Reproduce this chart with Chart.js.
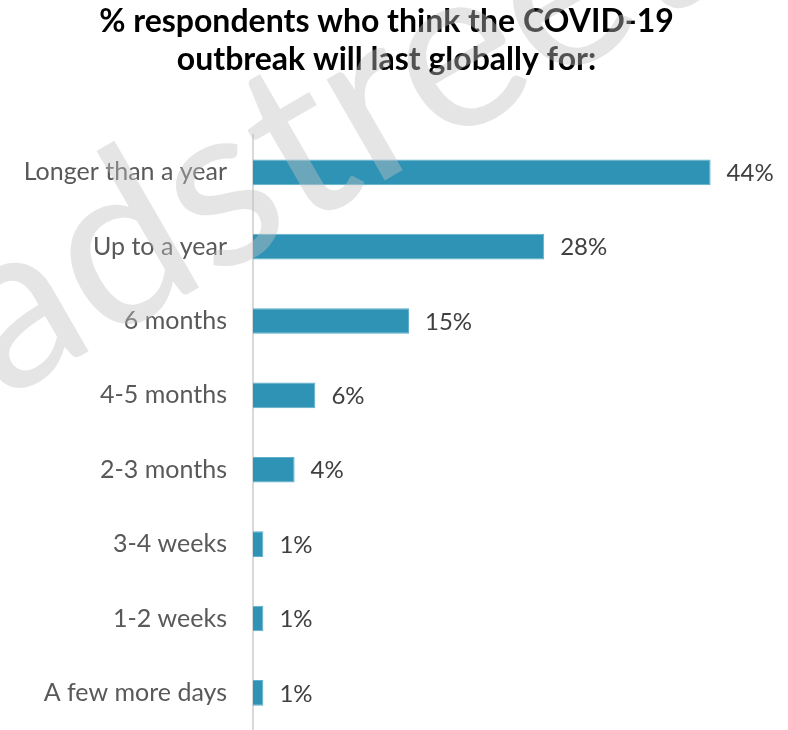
<!DOCTYPE html>
<html>
<head>
<meta charset="utf-8">
<script src="https://cdn.jsdelivr.net/npm/chart.js@4.4.1/dist/chart.umd.min.js"></script>
<style>
  html, body { margin: 0; padding: 0; background: #fff; }
  #wrap { width: 788px; height: 730px; }
</style>
</head>
<body>
<div id="wrap"><canvas id="chart"></canvas></div>
<script>
const CATEGORIES = [
  "Longer than a year", "Up to a year", "6 months", "4-5 months",
  "2-3 months", "3-4 weeks", "1-2 weeks", "A few more days"
];
const SHARES = [44, 28, 15, 6, 4, 1, 1, 1];
const TITLE = ["% respondents who think the COVID-19", "outbreak will last globally for:"];

const FONT = "Lato, 'Open Sans', sans-serif";

// percentage next to each bar
const valueLabels = {
  id: "valueLabels",
  afterDatasetsDraw(chart) {
    const ctx = chart.ctx;
    const meta = chart.getDatasetMeta(0);
    ctx.save();
    ctx.font = `24px ${FONT}`;
    ctx.fillStyle = "#404040";
    ctx.textAlign = "left";
    ctx.textBaseline = "middle";
    meta.data.forEach((bar, i) => {
      ctx.fillText(SHARES[i] + "%", bar.x + 16, bar.y + 1);
    });
    ctx.restore();
  }
};

// faint watermark over everything
const watermark = {
  id: "watermark",
  afterDraw(chart) {
    const ctx = chart.ctx;
    ctx.save();
    ctx.translate(-195, 515);
    ctx.rotate(-30 * Math.PI / 180);
    ctx.font = `230px ${FONT}`;
    ctx.fillStyle = "rgba(194,194,194,0.42)";
    ctx.textBaseline = "alphabetic";
    ctx.fillText("Bradstreet", 0, 0);
    ctx.restore();
  }
};

new Chart(document.getElementById("chart"), {
  type: "bar",
  data: {
    labels: CATEGORIES,
    datasets: [{
      data: SHARES,
      backgroundColor: "#2e93b5",
      borderColor: "#5fb0cc",
      borderWidth: 1,
      barPercentage: 0.345,
      categoryPercentage: 1
    }]
  },
  options: {
    indexAxis: "y",
    responsive: true,
    maintainAspectRatio: false,
    animation: false,
    layout: { padding: { left: 0, right: 15, top: 0, bottom: 0 } },
    plugins: {
      legend: { display: false },
      tooltip: { enabled: false },
      title: {
        display: true,
        text: TITLE,
        color: "#000",
        font: { family: FONT, size: 32, weight: "bold", lineHeight: 1.19 },
        padding: { top: 3, bottom: 56 }
      }
    },
    scales: {
      x: {
        display: false,
        min: 0,
        max: 50
      },
      y: {
        afterFit(scale) {
          scale.width = 253;
          scale.paddingTop = 0;
          scale.paddingBottom = 0;
        },
        grid: { display: false, drawTicks: false },
        border: { display: true, color: "#d9d9d9", width: 2 },
        ticks: {
          padding: 26,
          color: "#595959",
          font: { family: FONT, size: 25 }
        }
      }
    }
  },
  plugins: [valueLabels, watermark]
});
</script>
</body>
</html>
